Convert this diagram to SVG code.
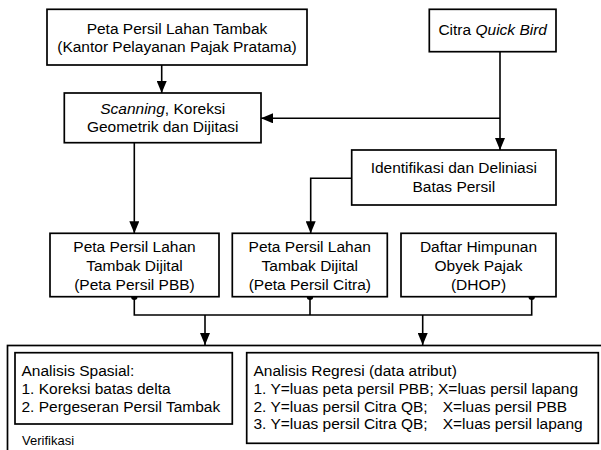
<svg xmlns="http://www.w3.org/2000/svg" width="601" height="450" viewBox="0 0 601 450">
<defs>
<style>
.box{fill:#fff;stroke:#000;stroke-width:1.7}
.t{font-family:"Liberation Sans",Arial,sans-serif;font-size:15.5px;fill:#000}
.c{text-anchor:middle}
.s{font-size:13px}
.ln{fill:none;stroke:#000;stroke-width:1.6}
.dot{fill:#000}
</style>
<marker id="ah" viewBox="0 0 12 10" refX="12" refY="5" markerWidth="12" markerHeight="10" markerUnits="userSpaceOnUse" orient="auto">
<path d="M0,0 L12,5 L0,10 Z" fill="#000"/>
</marker>
</defs>
<rect width="601" height="450" fill="#fff"/>

<g id="outer">
<rect x="7.5" y="345.5" width="620" height="120" class="box"/>
<text class="t s" x="22" y="444.5">Verifikasi</text>
</g>

<g id="connectors">
<path class="ln" d="M161.7,65 V93" marker-end="url(#ah)"/>
<path class="ln" d="M500,51.7 V150" marker-end="url(#ah)"/>
<path class="ln" d="M500,118.3 H261" marker-end="url(#ah)"/>
<path class="ln" d="M134.3,142.7 V233.3" marker-end="url(#ah)"/>
<path class="ln" d="M352,178.3 H310.7 V233.3" marker-end="url(#ah)"/>
<path class="ln" d="M134.3,296.7 V315 H531.7 V296.7"/>
<path class="ln" d="M310,296.7 V315"/>
<path class="ln" d="M205,315 V345" marker-end="url(#ah)"/>
<path class="ln" d="M422.7,315 V345" marker-end="url(#ah)"/>
<circle class="dot" cx="134.3" cy="296.7" r="3.2"/>
<circle class="dot" cx="310" cy="296.7" r="3.2"/>
<circle class="dot" cx="531.7" cy="296.7" r="3.2"/>
</g>

<g id="peta-kpp">
<rect x="47" y="9.3" width="260" height="55.7" class="box"/>
<text class="t c" x="177" y="34">Peta Persil Lahan Tambak</text>
<text class="t c" x="177" y="52">(Kantor Pelayanan Pajak Pratama)</text>
</g>

<g id="citra-qb">
<rect x="429.3" y="9.3" width="126.7" height="42.4" class="box"/>
<text class="t c" x="492.7" y="35">Citra <tspan font-style="italic">Quick Bird</tspan></text>
</g>

<g id="scanning">
<rect x="64.3" y="93" width="196.7" height="49.7" class="box"/>
<text class="t c" x="162.7" y="113.5"><tspan font-style="italic">Scanning</tspan>, Koreksi</text>
<text class="t c" x="162.7" y="131.5">Geometrik dan Dijitasi</text>
</g>

<g id="identifikasi">
<rect x="351.7" y="150" width="204.3" height="55" class="box"/>
<text class="t c" x="453.8" y="173">Identifikasi dan Deliniasi</text>
<text class="t c" x="453.8" y="191.5">Batas Persil</text>
</g>

<g id="peta-pbb">
<rect x="50" y="233.3" width="169" height="63.4" class="box"/>
<text class="t c" x="134.5" y="251.5">Peta Persil Lahan</text>
<text class="t c" x="134.5" y="270.5">Tambak Dijital</text>
<text class="t c" x="134.5" y="289.5">(Peta Persil PBB)</text>
</g>

<g id="peta-citra">
<rect x="232.3" y="233.3" width="155" height="63.4" class="box"/>
<text class="t c" x="309.8" y="251.5">Peta Persil Lahan</text>
<text class="t c" x="309.8" y="270.5">Tambak Dijital</text>
<text class="t c" x="309.8" y="289.5">(Peta Persil Citra)</text>
</g>

<g id="dhop">
<rect x="401" y="233.3" width="155" height="63.4" class="box"/>
<text class="t c" x="478.5" y="251.5">Daftar Himpunan</text>
<text class="t c" x="478.5" y="270.5">Obyek Pajak</text>
<text class="t c" x="478.5" y="289.5">(DHOP)</text>
</g>

<g id="spasial">
<rect x="15" y="352.7" width="217.3" height="71.3" class="box"/>
<text class="t" x="21.5" y="375.5">Analisis Spasial:</text>
<text class="t" x="21.5" y="393.5">1. Koreksi batas delta</text>
<text class="t" x="21.5" y="411.5">2. Pergeseran Persil Tambak</text>
</g>

<g id="regresi">
<rect x="246.7" y="352.7" width="351.6" height="90.6" class="box"/>
<text class="t" x="253.5" y="375.5">Analisis Regresi (data atribut)</text>
<text class="t" x="253.5" y="393.5">1. Y=luas peta persil PBB; X=luas persil lapang</text>
<text class="t" x="253.5" y="411.5">2. Y=luas persil Citra QB;<tspan x="442.7">X=luas persil PBB</tspan></text>
<text class="t" x="253.5" y="429">3. Y=luas persil Citra QB;<tspan x="442.7">X=luas persil lapang</tspan></text>
</g>
</svg>
